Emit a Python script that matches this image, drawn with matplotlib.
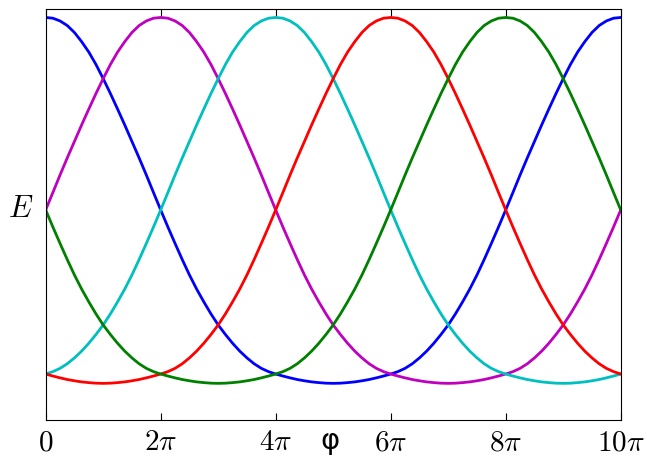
import numpy as np
import matplotlib
matplotlib.use('Agg')
import matplotlib.pyplot as plt

plt.rcParams['mathtext.fontset'] = 'cm'

# phase grid, in units of pi (step pi/8 over 0..10pi)
phi_pi = np.arange(0, 10.0625, 0.125)

# band energy (peak at phi = 0), 0..5pi
half_band = [1.000, 0.996, 0.981, 0.956, 0.918, 0.868, 0.811, 0.743,
             0.666, 0.585, 0.500, 0.413, 0.323, 0.233, 0.140, 0.044,
             -0.051, -0.144, -0.234, -0.322, -0.406, -0.483, -0.553, -0.619,
             -0.679, -0.731, -0.779, -0.822, -0.859, -0.891, -0.916, -0.934,
             -0.947, -0.958, -0.968, -0.977, -0.984, -0.990, -0.994, -0.997,
             -0.998]
# blue curve over 0..10pi (symmetric about 5pi)
band = half_band + half_band[-2::-1]

# each branch is the same band shifted so its peak sits here (units of pi)
peaks_pi = [0, 2, 4, 6, 8]
colors = ['b', 'm', 'c', 'r', 'g']

tick_pos = [0, 2, 4, 6, 8, 10]
tick_labels = ['$0$', r'$2\pi$', r'$4\pi$', r'$6\pi$', r'$8\pi$', r'$10\pi$']

fig = plt.figure(figsize=(6.47, 4.57), dpi=100)
ax = fig.add_axes([0.0706, 0.081, 0.8888, 0.9004])

base = np.array(band[:-1])
for p, c in zip(peaks_pi, colors):
    shift = int(round(p / 0.125))
    e = np.roll(base, shift)
    e = np.append(e, e[0])
    ax.plot(phi_pi * np.pi, e, color=c, lw=2)

ax.set_xlim(0, 10 * np.pi)
ax.set_ylim(-1.198, 1.049)
ax.set_xticks([t * np.pi for t in tick_pos])
ax.set_xticklabels(tick_labels, fontsize=21)
ax.set_yticks([])
ax.tick_params(axis='x', direction='in', top=True, length=5, pad=6)

# phi label sits on the tick-label row, between 4pi and 6pi
ax.set_xlabel('φ', fontsize=21)
ax.xaxis.set_label_coords(0.494, -0.018)
ax.set_ylabel('$E$', rotation=0, fontsize=22, va='center', ha='center')
ax.yaxis.set_label_coords(-0.043, 0.515)

plt.savefig('out.png', dpi=100, facecolor='white')
